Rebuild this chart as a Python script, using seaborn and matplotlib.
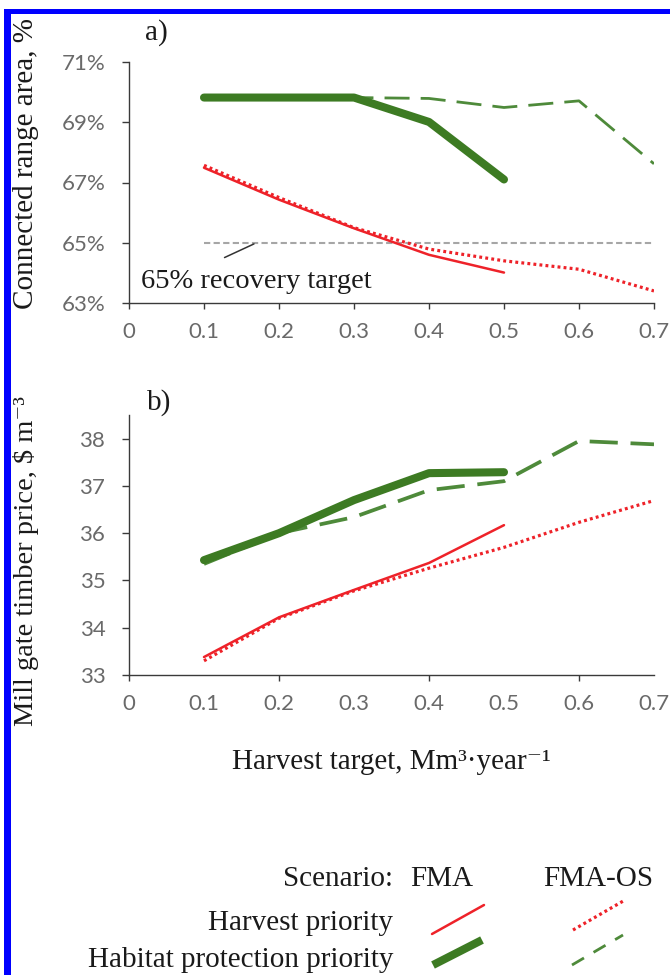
import matplotlib
matplotlib.use("Agg")
import matplotlib.pyplot as plt
import seaborn as sns
import pandas as pd
from matplotlib.lines import Line2D
from matplotlib.patches import Rectangle

# -----------------------------
# Data
# -----------------------------
x_fma = [0.1, 0.2, 0.3, 0.4, 0.5]
x_os = [0.1, 0.2, 0.3, 0.4, 0.5, 0.6, 0.7]

# a) connected range area, %
area_harvest_fma = [67.49, 66.43, 65.48, 64.60, 64.01]
area_harvest_os = [67.57, 66.50, 65.50, 64.79, 64.40, 64.12, 63.40]
area_habitat_fma = [69.82, 69.82, 69.82, 69.01, 67.10]
area_habitat_os = [69.82, 69.82, 69.82, 69.79, 69.49, 69.71, 67.62]
target_x = [0.1, 0.7]
target_value = 65

# b) mill gate timber price, $ m-3
price_harvest_fma = [33.38, 34.22, 34.80, 35.37, 36.17]
price_harvest_os = [33.30, 34.20, 34.78, 35.26, 35.70, 36.23, 36.69]
price_habitat_fma = [35.43, 36.00, 36.70, 37.27, 37.29]
price_habitat_os = [35.35, 36.00, 36.34, 36.91, 37.10, 37.95, 37.88]

x_ticks = [0, 0.1, 0.2, 0.3, 0.4, 0.5, 0.6, 0.7]
x_tick_labels = ["0", "0.1", "0.2", "0.3", "0.4", "0.5", "0.6", "0.7"]
area_ticks = [63, 65, 67, 69, 71]
price_ticks = [33, 34, 35, 36, 37, 38]

# -----------------------------
# Style
# -----------------------------
sns.set_style("ticks")
SERIF = ["Liberation Serif", "DejaVu Serif"]
TICKFONT = ["Lato", "DejaVu Sans"]
FS = 21
RED = "#ee2229"
GREEN = "#3d7b23"
GREEN_OS = "#4e8a3a"
TXT = "#1a1a1a"
TICKCOL = "#6a6a6a"
SPINE = "#3a3a3a"

fig = plt.figure(figsize=(6.7, 9.75), dpi=100)

W, H = 670.0, 975.0
ax1 = fig.add_axes([129 / W, 1 - 303 / H, 525 / W, 241 / H])
ax2 = fig.add_axes([129 / W, 1 - 675 / H, 525 / W, 260 / H])

df_a = pd.DataFrame({"x": x_os, "os_h": area_harvest_os, "os_g": area_habitat_os})
df_a_fma = pd.DataFrame({"x": x_fma, "h": area_harvest_fma, "g": area_habitat_fma})
df_b = pd.DataFrame({"x": x_os, "os_h": price_harvest_os, "os_g": price_habitat_os})
df_b_fma = pd.DataFrame({"x": x_fma, "h": price_harvest_fma, "g": price_habitat_fma})


def draw_panel(ax, d_os, d_fma, dash_lw, dash_pat):
    sns.lineplot(data=d_os, x="x", y="os_g", ax=ax, color=GREEN_OS,
                 lw=dash_lw, linestyle=(0, dash_pat), errorbar=None)
    sns.lineplot(data=d_fma, x="x", y="g", ax=ax, color=GREEN,
                 lw=5.8, solid_capstyle="round", solid_joinstyle="round",
                 errorbar=None)
    sns.lineplot(data=d_fma, x="x", y="h", ax=ax, color=RED,
                 lw=1.8, errorbar=None)
    sns.lineplot(data=d_os, x="x", y="os_h", ax=ax, color=RED,
                 lw=2.3, linestyle=(0, (0.9, 1.0)), errorbar=None)


# -----------------------------
# Panel a)
# -----------------------------
sns.lineplot(x=target_x, y=[target_value] * len(target_x), ax=ax1,
             color="#a6a6a6", lw=1.5, linestyle=(0, (3, 1.6)), errorbar=None)
draw_panel(ax1, df_a, df_a_fma, 2.0, (9, 4))

ax1.set_xlim(0, 0.7)
ax1.set_ylim(63, 71)
ax1.set_yticks(area_ticks)
ax1.set_yticklabels([f"{v}%" for v in area_ticks])
ax1.set_xticks(x_ticks)
ax1.set_xticklabels(x_tick_labels)
ax1.set_xlabel("")
ax1.set_ylabel("Connected range area, %", family=SERIF, fontsize=FS, color=TXT)
ax1.yaxis.set_label_coords(-0.172, 0.58)

ax1.text(0.016, 63.5, "65% recovery target", family=SERIF, fontsize=20.5,
         color=TXT, va="baseline", ha="left")
ax1.annotate("", xy=(0.17, 65), xytext=(0.124, 64.47),
             arrowprops=dict(arrowstyle="-", color="#333333", lw=1.1))

# -----------------------------
# Panel b)
# -----------------------------
draw_panel(ax2, df_b, df_b_fma, 2.7, (7.5, 3.4))

ax2.set_xlim(0, 0.7)
ax2.set_ylim(33, 38.5)
ax2.set_yticks(price_ticks)
ax2.set_xticks(x_ticks)
ax2.set_xticklabels(x_tick_labels)
ax2.set_xlabel("Harvest target, Mm³·year⁻¹", family=SERIF, fontsize=FS, color=TXT)
ax2.xaxis.set_label_coords(0.5, -0.285)
ax2.set_ylabel("Mill gate timber price, $ m⁻³", family=SERIF, fontsize=20.5, color=TXT)
ax2.yaxis.set_label_coords(-0.172, 0.44)

# only every second x tick mark is drawn in panel b
for i, t in enumerate(ax2.xaxis.get_major_ticks()):
    if i % 2 == 1:
        t.tick1line.set_visible(False)

for ax in (ax1, ax2):
    sns.despine(ax=ax)
    ax.set_facecolor("white")
    for s in ("left", "bottom"):
        ax.spines[s].set_color(SPINE)
        ax.spines[s].set_linewidth(1.0)
    ax.tick_params(axis="y", direction="out", length=5, width=1.0,
                   color=SPINE, pad=12, labelsize=16, labelcolor=TICKCOL)
    ax.tick_params(axis="x", direction="out", length=4, width=1.0,
                   color=SPINE, pad=10, labelsize=16, labelcolor=TICKCOL)
    for lab in ax.get_xticklabels() + ax.get_yticklabels():
        lab.set_family(TICKFONT)

fig.text(145 / W, 1 - 40 / H, "a)", family=SERIF, fontsize=FS, color=TXT,
         va="baseline", ha="left")
fig.text(147 / W, 1 - 410 / H, "b)", family=SERIF, fontsize=FS, color=TXT,
         va="baseline", ha="left")

# -----------------------------
# Legend (pixel-space overlay)
# -----------------------------
lg = fig.add_axes([0, 0, 1, 1], zorder=-1)
lg.set_xlim(0, W)
lg.set_ylim(H, 0)
lg.axis("off")

lg.text(393, 886, "Scenario:", family=SERIF, fontsize=FS, color=TXT,
        ha="right", va="baseline")
lg.text(442, 886, "FMA", family=SERIF, fontsize=FS, color=TXT,
        ha="center", va="baseline")
lg.text(598, 886, "FMA-OS", family=SERIF, fontsize=FS, color=TXT,
        ha="center", va="baseline")
lg.text(393, 930, "Harvest priority", family=SERIF, fontsize=FS, color=TXT,
        ha="right", va="baseline")
lg.text(393, 967, "Habitat protection priority", family=SERIF, fontsize=FS,
        color=TXT, ha="right", va="baseline")

lg.add_line(Line2D([432, 484], [934, 905], color=RED, lw=1.8))
lg.add_line(Line2D([433, 482], [965, 940], color=GREEN, lw=5.8,
                   solid_capstyle="butt"))
lg.add_line(Line2D([573, 625], [930, 900], color=RED, lw=2.3,
                   linestyle=(0, (0.9, 1.0))))
lg.add_line(Line2D([572, 623], [965, 935], color=GREEN_OS, lw=2.0,
                   linestyle=(0, (5, 4))))

# blue frame on top and left edges
lg.add_patch(Rectangle((4, 9), 7, H, color="#0000ff", lw=0))
lg.add_patch(Rectangle((4, 9), W, 4.5, color="#0000ff", lw=0))

fig.savefig("out.png", dpi=100, facecolor="white")
